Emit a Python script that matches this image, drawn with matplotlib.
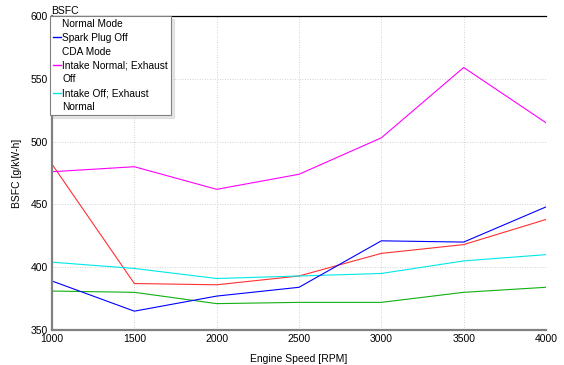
import matplotlib
matplotlib.use("Agg")
import matplotlib.pyplot as plt
from matplotlib.lines import Line2D

plt.rcParams['font.family'] = ['Liberation Sans', 'DejaVu Sans']

# engine speed sweep
rpm = [1000, 1500, 2000, 2500, 3000, 3500, 4000]

# BSFC [g/kW-h] per operating mode
spark_plug_off = [389, 365, 377, 384, 421, 420, 448]
red_series = [482, 387, 386, 393, 411, 418, 438]
intake_normal_exh_off = [476, 480, 462, 474, 503, 559, 515]
intake_off_exh_normal = [404, 399, 391, 393, 395, 405, 410]
green_series = [381, 380, 371, 372, 372, 380, 384]

legend_rows = [
    ("Normal Mode", "none"),
    ("Spark Plug Off", "#0000ff"),
    ("CDA Mode", "none"),
    ("Intake Normal; Exhaust", "#ff00ff"),
    ("Off", "none"),
    ("Intake Off; Exhaust", "#00e8e8"),
    ("Normal", "none"),
]

fig = plt.figure(figsize=(5.64, 3.65), dpi=100)
ax = fig.add_axes([52/564, 35/365, (546-52)/564, (330-16)/365])

lw = 0.8
ax.plot(rpm, red_series, color="#ff3030", lw=lw)
ax.plot(rpm, green_series, color="#10b010", lw=lw)
ax.plot(rpm, intake_off_exh_normal, color="#00e8e8", lw=lw)
ax.plot(rpm, spark_plug_off, color="#0000ff", lw=lw)
ax.plot(rpm, intake_normal_exh_off, color="#ff00ff", lw=lw)

ax.set_xlim(1000, 4000)
ax.set_ylim(350, 600)
ax.set_xticks(rpm)
ax.set_yticks([350, 400, 450, 500, 550, 600])
ax.grid(True, color="#c4c4c4", linestyle=(0, (1, 2)), lw=0.6)
ax.tick_params(length=0, labelsize=7.5, pad=3)

for s in ("left", "bottom"):
    ax.spines[s].set_color("#808080")
    ax.spines[s].set_linewidth(1.6)
ax.spines["top"].set_color("black")
ax.spines["top"].set_linewidth(0.9)
ax.spines["right"].set_visible(False)

ax.set_title("BSFC", loc="left", fontsize=7.5, pad=1, x=-0.002)
ax.set_xlabel("Engine Speed [RPM]", fontsize=7.5, labelpad=7)
ax.set_ylabel("BSFC [g/kW-h]", fontsize=7.5, labelpad=6)

handles = [Line2D([], [], color=c, lw=1) for _, c in legend_rows]
labels = [t for t, _ in legend_rows]
leg = fig.legend(handles, labels, loc="upper left",
                 bbox_to_anchor=(50/564, 1 - 16/365), bbox_transform=fig.transFigure,
                 borderaxespad=0, fontsize=7.3, handlelength=0.8, handletextpad=0.12,
                 labelspacing=0.38, borderpad=0.3, fancybox=False, framealpha=1,
                 edgecolor="#808080", shadow={"color": "#cccccc"})
leg.get_frame().set_linewidth(0.8)

fig.savefig("out.png", dpi=100)
